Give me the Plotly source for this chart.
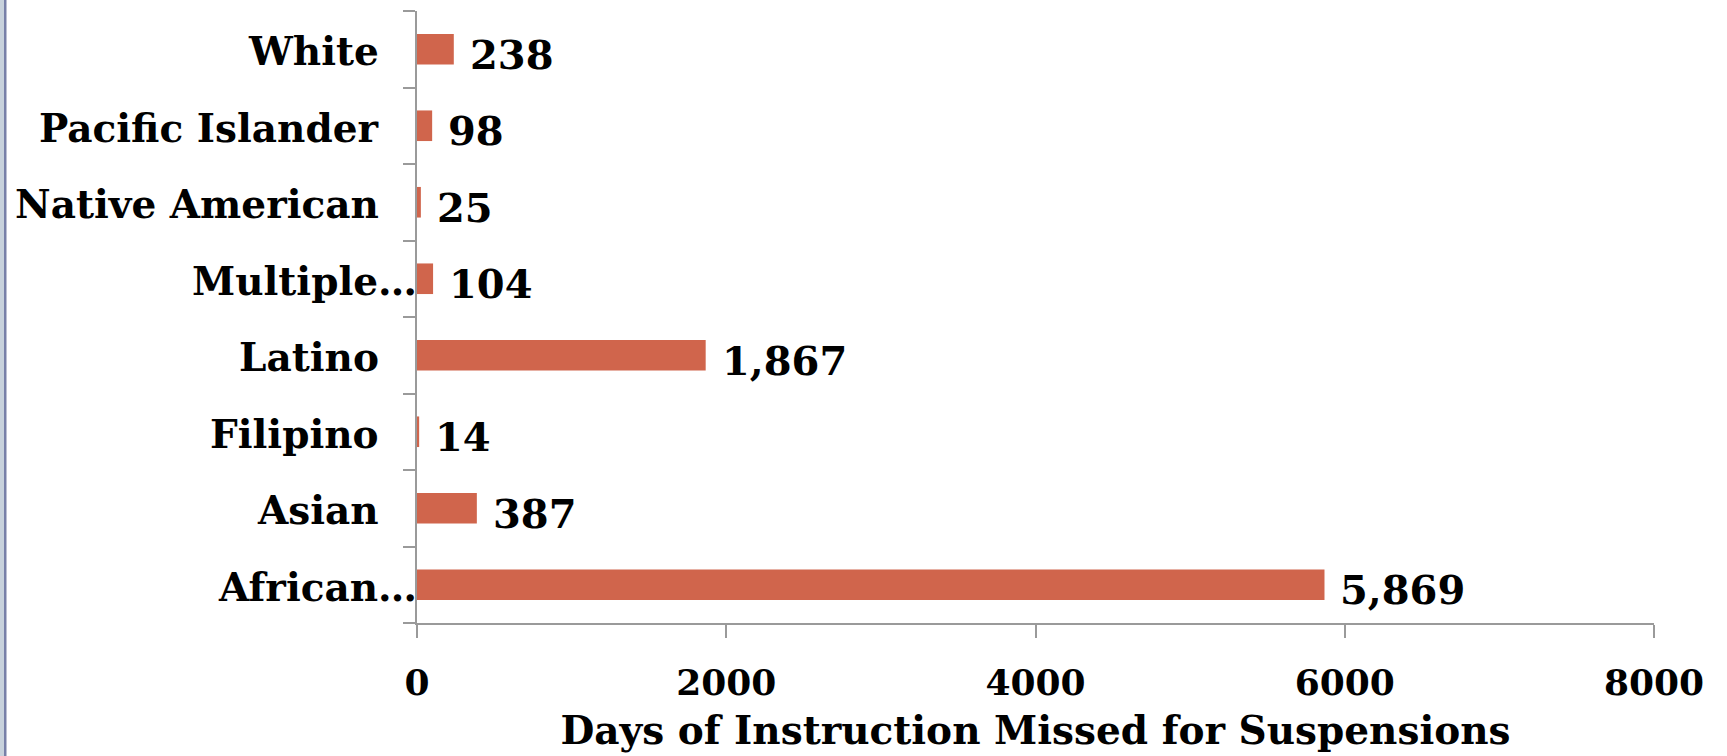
import plotly.graph_objects as go

# Days of instruction missed for suspensions, by student group
categories = ["African…", "Asian", "Filipino", "Latino", "Multiple…",
              "Native American", "Pacific Islander", "White"]
days_missed = [5869, 387, 14, 1867, 104, 25, 98, 238]
x_ticks = [0, 2000, 4000, 6000, 8000]

W, H = 1727, 756
M_L, M_R, M_T, M_B = 417, 73, 11, 131
plot_w = W - M_L - M_R

FONT = "Georgia, 'DejaVu Serif', serif"
BAR_COLOR = "#D0654C"
AXIS_COLOR = "#9A9A9A"

fig = go.Figure(
    go.Bar(
        x=days_missed,
        y=categories,
        orientation="h",
        marker=dict(color=BAR_COLOR, line=dict(width=0)),
        hoverinfo="skip",
    )
)

# value labels to the right of each bar
for cat, v in zip(categories, days_missed):
    fig.add_annotation(
        x=v, y=cat, xref="x", yref="y",
        text=f"<b>{v:,}</b>", showarrow=False,
        xanchor="left", yanchor="middle", xshift=14, yshift=-5,
        font=dict(family=FONT, size=40, color="#000000"),
    )

# category labels (truncated names run up to the axis line)
for cat in categories:
    truncated = cat.endswith("…")
    fig.add_annotation(
        x=0, y=cat, xref="x", yref="y",
        text=f"<b>{cat}</b>", showarrow=False,
        xanchor="right", yanchor="middle",
        xshift=2 if truncated else -36, yshift=-2,
        font=dict(family=FONT, size=39, color="#000000"),
    )

# slide edge on the left
def px_to_paper(p):
    return (p - M_L) / plot_w

fig.add_shape(type="rect", xref="paper", yref="paper",
              x0=px_to_paper(0), x1=px_to_paper(4), y0=-1, y1=2,
              fillcolor="#C8D2DC", line=dict(width=0), layer="below")
fig.add_shape(type="rect", xref="paper", yref="paper",
              x0=px_to_paper(4), x1=px_to_paper(6.5), y0=-1, y1=2,
              fillcolor="#7880A8", line=dict(width=0), layer="below")

fig.update_layout(
    width=W, height=H,
    margin=dict(l=M_L, r=M_R, t=M_T, b=M_B, pad=0),
    paper_bgcolor="#FFFFFF", plot_bgcolor="#FFFFFF",
    bargap=0.6,
    showlegend=False,
    font=dict(family=FONT, color="#000000"),
)

fig.update_xaxes(
    range=[0, 8000],
    tickvals=x_ticks,
    ticktext=[str(t) for t in x_ticks],
    showgrid=False, zeroline=False,
    showline=True, linecolor=AXIS_COLOR, linewidth=2,
    ticks="outside", ticklen=13, tickwidth=2, tickcolor=AXIS_COLOR,
    ticklabelstandoff=14,
    tickfont=dict(family=FONT, size=36, color="#000000", weight="bold"),
    title=dict(text="Days of Instruction Missed for Suspensions",
               font=dict(family=FONT, size=39, color="#000000", weight="bold"),
               standoff=14),
)

fig.update_yaxes(
    categoryorder="array", categoryarray=categories,
    showticklabels=False,
    showgrid=False, zeroline=False,
    showline=True, linecolor=AXIS_COLOR, linewidth=2,
    ticks="outside", ticklen=12, tickwidth=2, tickcolor=AXIS_COLOR,
    tickson="boundaries",
)

fig.write_html("out.html")
